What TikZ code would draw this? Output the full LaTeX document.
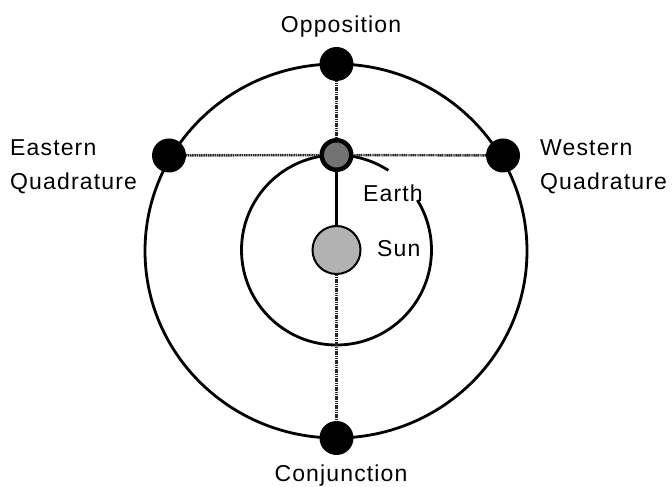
\documentclass[tikz,border=0pt]{standalone}
\usepackage{fontspec}
\newfontfamily\labfont[LetterSpace=5]{Liberation Sans}
\usetikzlibrary{backgrounds}
\begin{document}
\begin{tikzpicture}[x=1pt,y=1pt,
  orbit/.style={draw=black,line width=2.8pt},
  sight/.style={draw=black!85,line width=2.4pt,dash pattern=on 1.2pt off 0.6pt},
  link/.style={draw=black,line width=2.4pt},
  planet/.style={circle,fill=black,inner sep=0pt,minimum size=34pt},
  earthdot/.style={circle,fill=black!55,draw=black,line width=4.5pt,inner sep=0pt,minimum size=29.5pt},
  sundot/.style={circle,fill=black!30,draw=black,line width=2pt,inner sep=0pt,minimum size=48pt},
  lab/.style={font=\labfont\fontsize{23}{34}\selectfont,inner sep=0pt}]
\useasboundingbox (0,0) rectangle (672,487);
\coordinate (O) at (336,236);
\node[planet] (opp) at (336.5,423) {};
\node[planet] (con) at (336.5,49) {};
\node[planet] (east) at (169,331.5) {};
\node[planet] (west) at (503,331.5) {};
\node[earthdot] (earth) at (336.5,332) {};
\node[sundot] (sun) at (336.5,237) {};
\begin{scope}[on background layer]
\fill[white] (0,0) rectangle (672,487);
\draw[orbit] (O) ellipse [x radius=191pt, y radius=187pt];
\draw[orbit] ([shift={(90:95pt)}]sun.center) arc[start angle=90, end angle=391.7, radius=95pt];
\draw[orbit] ([shift={(90:95pt)}]sun.center) arc[start angle=90, end angle=57, radius=95pt];
\end{scope}
\draw[sight] (opp) -- (earth);
\draw[sight] (east) -- (earth);
\draw[sight] (earth) -- (west);
\draw[sight] (sun) -- (con);
\draw[link] (earth) -- (sun);
\node[lab,anchor=base] (toplab) at (341,454) {Opposition};
\node[lab,anchor=base] (botlab) at (341,5) {Conjunction};
\node[lab,anchor=base west,align=left] (eastlab) at (10,297) {Eastern\\Quadrature};
\node[lab,anchor=base west,align=left] (westlab) at (540,297) {Western\\Quadrature};
\node[lab,anchor=base west] (earthlab) at (363,285) {Earth};
\node[lab,anchor=base west] (sunlab) at (377,230) {Sun};
\end{tikzpicture}
\end{document}
